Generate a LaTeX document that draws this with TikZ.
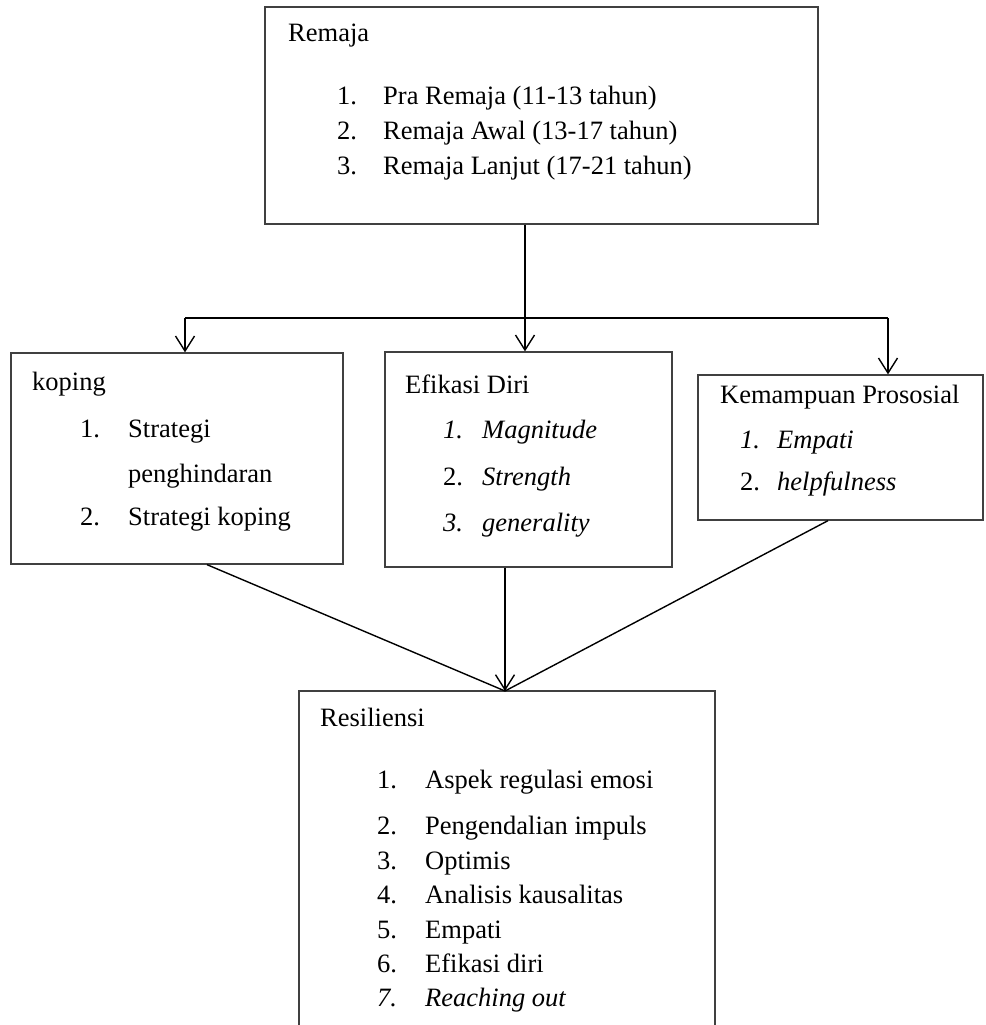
\documentclass[tikz,border=0pt]{standalone}
\usepackage{fontspec}
\setmainfont{Liberation Serif}
\usetikzlibrary{arrows.meta}
\tikzset{
  box/.style={draw=black!75, line width=1.3pt, rectangle, inner sep=0pt},
  txt/.style={anchor=west, inner sep=0pt, yshift=-6.5pt, text height=0.7em, text depth=0.25em, font=\fontsize{26.5}{31}\selectfont},
  link/.style={line width=1.4pt},
  head/.style={-{Straight Barb[length=15pt,width=19pt,line width=1.4pt]}}
}

\begin{document}
\begin{tikzpicture}[x=1pt,y=-1pt]
		%%%%% FRAME %%%%%
		\path[use as bounding box, clip] (0,0) rectangle (985,1025);
		
		%%%%% BOXES %%%%%
		\node[box, minimum width=553pt, minimum height=217pt] (remaja) at (541.5,115.5) {};
		\node[box, minimum width=332pt, minimum height=211pt] (koping) at (177,458.5) {};
		\node[box, minimum width=287pt, minimum height=215pt] (efikasi) at (528.5,459.5) {};
		\node[box, minimum width=285pt, minimum height=145pt] (prososial) at (840.5,447.5) {};
		\node[box, minimum width=416pt, minimum height=380pt] (resiliensi) at (507,881) {};
		
		%%%%% REMAJA %%%%%
		\node[txt] (remaja-t) at (288,33) {Remaja};
		\foreach \i/\t/\y in {1/Pra Remaja (11-13 tahun)/96, 2/Remaja Awal (13-17 tahun)/131, 3/Remaja Lanjut (17-21 tahun)/166} {
			\node[txt] (remaja-n\i) at (337,\y) {\i.};
			\node[txt] (remaja-\i) at (383,\y) {\t};
		}
		
		%%%%% KOPING %%%%%
		\node[txt] (koping-t) at (32,382) {koping};
		\node[txt] (koping-n1) at (80,429) {1.};
		\node[txt] (koping-1) at (128,429) {Strategi};
		\node[txt] (koping-1b) at (128,474) {penghindaran};
		\node[txt] (koping-n2) at (80,517) {2.};
		\node[txt] (koping-2) at (128,517) {Strategi koping};
		
		%%%%% EFIKASI DIRI %%%%%
		\node[txt] (efikasi-t) at (405,385) {Efikasi Diri};
		\foreach \i/\n/\t/\y in {1/\textit{1.}/Magnitude/430, 2/2./Strength/477, 3/\textit{3.}/generality/523} {
			\node[txt] (efikasi-n\i) at (443,\y) {\n};
			\node[txt] (efikasi-\i) at (482,\y) {\textit{\t}};
		}
		
		%%%%% PROSOSIAL %%%%%
		\node[txt] (prososial-t) at (720,395) {Kemampuan Prososial};
		\foreach \i/\n/\t/\y in {1/\textit{1.}/Empati/440, 2/2./helpfulness/482} {
			\node[txt] (prososial-n\i) at (740,\y) {\n};
			\node[txt] (prososial-\i) at (777,\y) {\textit{\t}};
		}
		
		%%%%% RESILIENSI %%%%%
		\node[txt] (resiliensi-t) at (320,718) {Resiliensi};
		\foreach \i/\t/\y in {1/Aspek regulasi emosi/780, 2/Pengendalian impuls/826, 3/Optimis/861, 4/Analisis kausalitas/895, 5/Empati/930, 6/Efikasi diri/964} {
			\node[txt] (resiliensi-n\i) at (377,\y) {\i.};
			\node[txt] (resiliensi-\i) at (425,\y) {\t};
		}
		\node[txt] (resiliensi-n7) at (377,998) {\textit{7.}};
		\node[txt] (resiliensi-7) at (425,998) {\textit{Reaching out}};
		
		%%%%% CONNECTORS %%%%%
		\coordinate (fork) at (525,318);
		\coordinate (forkL) at (185,318);
		\coordinate (forkR) at (888,318);
		\coordinate (meet) at (505,691);
		
		\draw[link] (remaja.south -| fork) -- (fork);
		\draw[link, line width=2pt] (forkL) -- (forkR);
		\draw[link, head] (forkL) -- (forkL |- koping.north);
		\draw[link, head] (fork) -- (fork |- efikasi.north);
		\draw[link, head] (forkR) -- (forkR |- prososial.north);
		
		\draw[link] ([xshift=30pt]koping.south) -- (meet);
		\draw[link] ([xshift=-12.5pt]prososial.south) -- (meet);
		\draw[link, head] (efikasi.south -| meet) -- (meet);
	\end{tikzpicture}
\end{document}
